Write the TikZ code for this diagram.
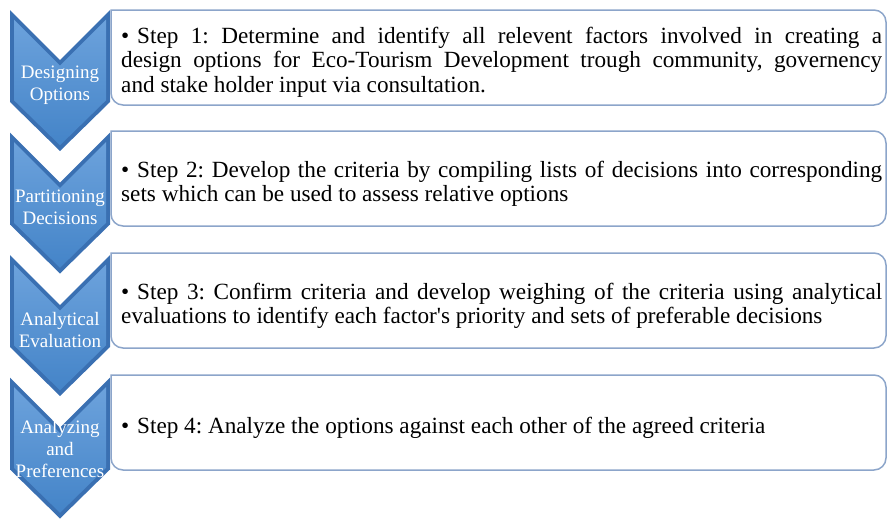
\documentclass[tikz,border=0pt]{standalone}
\usepackage{fontspec}
\setmainfont{Liberation Serif}[Ligatures=TeXOff]
\usetikzlibrary{positioning,calc}
\definecolor{stageblue}{RGB}{68,132,200}
\definecolor{stagedark}{RGB}{58,112,178}
\definecolor{stagelight}{RGB}{108,162,220}
\definecolor{boxline}{RGB}{140,165,202}
\hyphenpenalty=10000
\frenchspacing

% one blue chevron, #1 = y of its top corners
\newcommand{\stagechevron}[1]{%
  \fill[stagedark] (10,#1) -- (60,#1+50) -- (110,#1) -- (110,#1+92)
    -- (60,#1+141) -- (10,#1+92) -- cycle;
  \shade[top color=stagelight, bottom color=stageblue] (14,#1+9.7)
    -- (60,#1+55.7) -- (106,#1+9.7) -- (106,#1+90.3) -- (60,#1+135.3)
    -- (14,#1+90.3) -- cycle;
}
% text box with square left side and rounded right corners
\newcommand{\stepframe}[2]{%
  \draw[stepbox] (111,#1) [rounded corners=12pt] -- (886,#1) -- (886,#2)
    -- (111,#2) [sharp corners] -- cycle;
}
% bullet with hanging lines, spaces may stretch but never shrink
\newcommand{\stepbullet}{\spaceskip=0.25em plus 0.6em\relax
  \hangindent=16pt\hangafter=1 \makebox[16pt][l]{\textbullet}}

\tikzset{
  stepbox/.style={draw=boxline, line width=1.5pt, fill=white},
  steptext/.style={anchor=west, inner sep=0pt, text width=761pt,
    align=justify, font=\fontsize{23.2}{24.5}\selectfont},
  stagetext/.style={text=white, align=center, inner sep=0pt,
    font=\fontsize{19}{22}\selectfont}
}

\begin{document}
\begin{tikzpicture}[x=1pt, y=-1pt]
    \useasboundingbox (0,0) rectangle (889,520);

    % Chevrons down the left side
    \stagechevron{10}
    \stagechevron{132.5}
    \stagechevron{255}
    \stagechevron{377.5}

    % Stage names on the chevrons
    \node[stagetext] (design) at (60,85) {Designing\\Options};
    \node[stagetext] (partition) at (60,207.5) {Partitioning\\Decisions};
    \node[stagetext] (evaluate) at (60,330) {Analytical\\Evaluation};
    \node[stagetext] (prefer) at (60,449) {Analyzing\\and\\Preferences};

    % Boxes with the steps
    \stepframe{10}{105}
    \stepframe{131}{226}
    \stepframe{253}{348}
    \stepframe{375}{470}

    \node[steptext] (step1) at (121,62) {\stepbullet Step 1: Determine and
      identify all relevent factors involved in creating a\linebreak design
      options for Eco-Tourism Development trough community,
      governency\linebreak and stake holder input via consultation.};
    \node[steptext] (step2) at (121,184) {\stepbullet Step 2: Develop the
      criteria by compiling lists of decisions into corresponding sets which can
      be used to assess relative options};
    \node[steptext] (step3) at (121,306) {\stepbullet Step 3: Confirm criteria
      and develop weighing of the criteria using analytical evaluations to
      identify each factor's priority and sets of preferable decisions};
    \node[steptext] (step4) at (121,428) {\stepbullet Step 4: Analyze the
      options against each other of the agreed criteria};

\end{tikzpicture}
\end{document}
